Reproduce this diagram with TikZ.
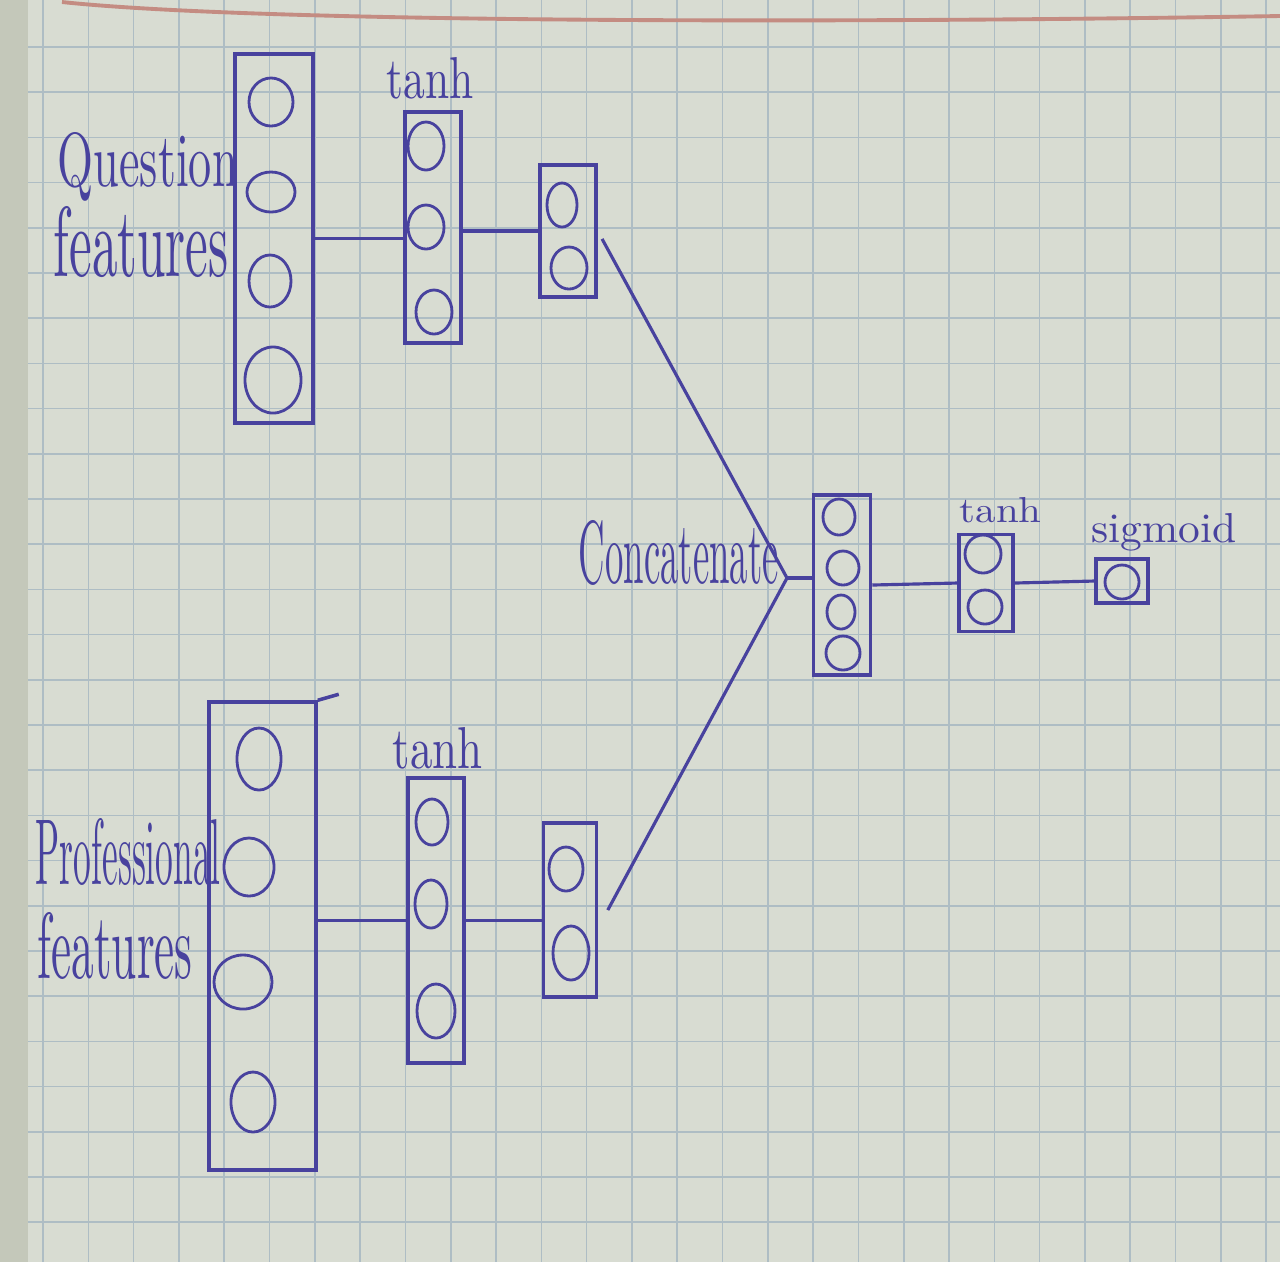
\documentclass[tikz,border=0pt]{standalone}
\usetikzlibrary{shapes.geometric,calc}
\definecolor{ink}{RGB}{72,66,158}
\definecolor{paper}{RGB}{216,220,210}
\definecolor{gridc}{RGB}{174,189,196}
\definecolor{redline}{RGB}{196,140,130}
\definecolor{edgec}{RGB}{196,200,186}
\tikzset{
  layer/.style 2 args={draw=ink, line width=1pt, rectangle, inner sep=0pt,
    minimum width=#1*0.01cm, minimum height=#2*0.01cm},
  nrn/.style 2 args={draw=ink, line width=0.8pt, ellipse, inner sep=0pt,
    minimum width=#1*0.02cm, minimum height=#2*0.02cm},
  wire/.style={draw=ink, line width=0.9pt},
  lbl/.style={text=ink, inner sep=0pt, anchor=base west},
  gridline/.style={draw=gridc, line width=0.45pt}
}
\begin{document}
\begin{tikzpicture}[x=0.01cm,y=-0.01cm]
% paper
\useasboundingbox (0,0) rectangle (1280,1262);
\fill[paper] (0,0) rectangle (1280,1262);
\fill[edgec] (0,0) rectangle (28,1262);
\foreach \k in {0,...,27} \draw[gridline] ({43+45.3*\k},0) -- ({43+45.3*\k},1262);
\foreach \k in {0,...,26} \draw[gridline] (28,{47+45.2*\k}) -- (1280,{47+45.2*\k});
\draw[redline, line width=1.1pt] (62,2) .. controls (250,22) and (800,24) .. (1280,16);

% question branch
\node[layer={78}{369}] (qin) at (274,238.5) {};
\node[nrn={22}{24}] (qin1) at (271,102) {};
\node[nrn={24}{20}] (qin2) at (271,192) {};
\node[nrn={21}{26}] (qin3) at (270,281) {};
\node[nrn={28}{33}] (qin4) at (273,380) {};
\node[layer={56}{231}] (qt) at (433,227.5) {};
\node[nrn={18}{24}] (qt1) at (426,146) {};
\node[nrn={18}{22}] (qt2) at (426,227) {};
\node[nrn={18}{22}] (qt3) at (434,312) {};
\node[layer={56}{132}] (qs) at (568,231) {};
\node[nrn={15}{22}] (qs1) at (562,205) {};
\node[nrn={18}{21}] (qs2) at (569,268) {};

% professional branch
\node[layer={107}{468}] (pin) at (262.5,936) {};
\draw[ink, line width=1pt] (pin.north east) -- ++(21,-6);
\node[nrn={22}{31}] (pin1) at (259,759) {};
\node[nrn={25}{29}] (pin2) at (249,867) {};
\node[nrn={29}{27}] (pin3) at (243,982) {};
\node[nrn={22}{30}] (pin4) at (253,1102) {};
\node[layer={56}{285}] (pt) at (436,920.5) {};
\node[nrn={16}{23}] (pt1) at (432,822) {};
\node[nrn={16}{24}] (pt2) at (431,904) {};
\node[nrn={19}{27}] (pt3) at (436,1011) {};
\node[layer={53}{174}] (ps) at (570,910) {};
\node[nrn={17}{22}] (ps1) at (566,869) {};
\node[nrn={18}{27}] (ps2) at (571,953) {};

% merged part
\node[layer={57}{180}] (cc) at (842,585) {};
\node[nrn={16}{18}] (cc1) at (839,517) {};
\node[nrn={16}{17}] (cc2) at (843,568) {};
\node[nrn={14}{17}] (cc3) at (841,612) {};
\node[nrn={17}{17}] (cc4) at (843,653) {};
\node[layer={54}{97}] (t2) at (986,583) {};
\node[nrn={18}{19}] (t21) at (983,554) {};
\node[nrn={17}{17}] (t22) at (985,607) {};
\node[layer={52}{44}] (sg) at (1122,581) {};
\node[nrn={17}{17}] (sg1) at (1122,582) {};

% connectors
\coordinate (m) at (787,578);
\draw[wire] (qin.east) -- (qin.east -| qt.west);
\draw[wire] (qs.west -| qt.east) -- (qs.west);
\draw[wire] (pin.east |- pt.west) -- (pt.west);
\draw[wire] (pt.east) -- (pt.east -| ps.west);
\draw[wire, shorten <=0.09cm] (qs.east) -- (m);
\draw[wire, shorten <=0.2cm] (ps.-32) -- (m);
\draw[wire] (m) -- (m -| cc.west);
\draw[wire] (cc.east) -- (t2.west);
\draw[wire] (t2.east) -- (sg.west);

% labels
\node[lbl] (lq1) at (57,186) {\resizebox{1.80cm}{0.54cm}{Question}};
\node[lbl] (lq2) at (53,276) {\resizebox{1.75cm}{0.70cm}{features}};
\node[lbl] (lp1) at (35,884) {\resizebox{1.85cm}{0.66cm}{Professional}};
\node[lbl] (lp2) at (37,978) {\resizebox{1.55cm}{0.66cm}{features}};
\node[lbl] (lc) at (578,583) {\resizebox{2.00cm}{0.63cm}{Concatenate}};
\node[lbl] (lt1) at (386,98) {\resizebox{0.87cm}{0.41cm}{tanh}};
\node[lbl] (lt2) at (392,768) {\resizebox{0.90cm}{0.41cm}{tanh}};
\node[lbl] (lt3) at (959,522) {\resizebox{0.82cm}{0.25cm}{tanh}};
\node[lbl] (ls) at (1091,542) {\resizebox{1.45cm}{0.29cm}{sigmoid}};
\end{tikzpicture}
\end{document}
